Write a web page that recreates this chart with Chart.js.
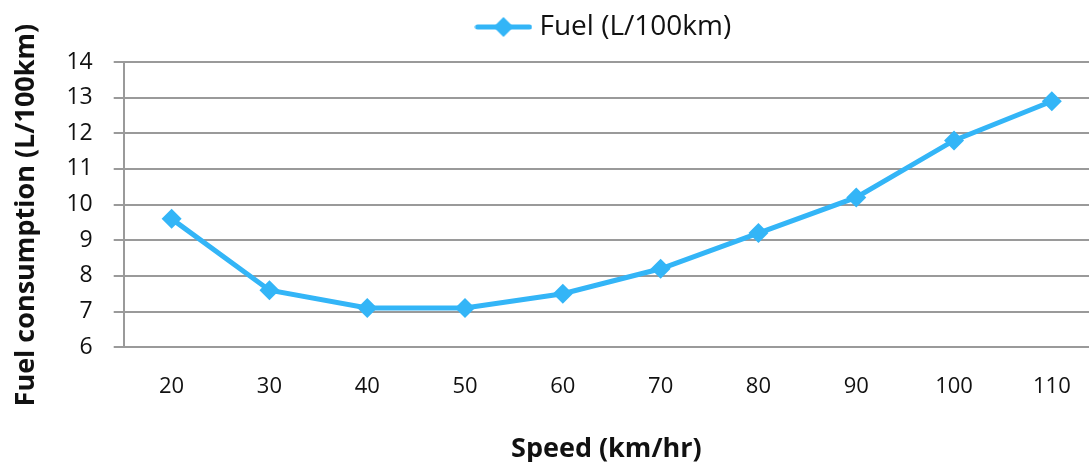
<!DOCTYPE html>
<html lang="en">
<head>
    <meta charset="UTF-8">
    <title>Fuel consumption vs speed</title>
    <script src="https://cdn.jsdelivr.net/npm/chart.js"></script>
    <style>
        html, body { margin: 0; padding: 0; background: #fff; overflow: hidden; }
        #wrap { position: relative; width: 1089px; height: 462px; }
    </style>
</head>
<body>
    <div id="wrap"><canvas id="fuelChart"></canvas></div>

    <script>
        // speed (km/hr) and measured fuel use (L/100km)
        const speeds = [20, 30, 40, 50, 60, 70, 80, 90, 100, 110];
        const fuelUse = [9.6, 7.6, 7.1, 7.1, 7.5, 8.2, 9.2, 10.2, 11.8, 12.9];
        const yTicks = [6, 7, 8, 9, 10, 11, 12, 13, 14];

        const lineColor = '#33b5f7';
        const gridColor = '#9a9a9a';
        const fontFamily = "'Open Sans', 'Noto Sans', sans-serif";

        // legend swatch: short line with a diamond in the middle
        function legendSwatch() {
            const c = document.createElement('canvas');
            c.width = 58; c.height = 22;
            const ctx = c.getContext('2d');
            ctx.strokeStyle = lineColor;
            ctx.lineWidth = 5;
            ctx.lineCap = 'round';
            ctx.beginPath();
            ctx.moveTo(3, 11); ctx.lineTo(55, 11);
            ctx.stroke();
            ctx.fillStyle = lineColor;
            ctx.beginPath();
            ctx.moveTo(29, 1); ctx.lineTo(39, 11); ctx.lineTo(29, 21); ctx.lineTo(19, 11);
            ctx.closePath();
            ctx.fill();
            return c;
        }
        const swatch = legendSwatch();

        // extra space between the legend and the plot
        const legendGap = {
            id: 'legendGap',
            beforeInit(chart) {
                const fit = chart.legend.fit;
                chart.legend.fit = function () {
                    fit.call(this);
                    this.height += 11;
                };
            }
        };

        new Chart(document.getElementById('fuelChart').getContext('2d'), {
            type: 'line',
            data: {
                datasets: [{
                    label: 'Fuel (L/100km)',
                    data: speeds.map((s, i) => ({ x: s, y: fuelUse[i] })),
                    borderColor: lineColor,
                    backgroundColor: lineColor,
                    borderWidth: 5,
                    pointStyle: 'rectRot',
                    pointRadius: 10,
                    pointHoverRadius: 10,
                    pointBorderWidth: 0,
                    tension: 0
                }]
            },
            plugins: [legendGap],
            options: {
                responsive: true,
                maintainAspectRatio: false,
                animation: false,
                // plot runs right up to the canvas edge
                layout: { autoPadding: false, padding: { left: 10, top: 0, right: 0, bottom: 0 } },
                plugins: {
                    tooltip: { enabled: false },
                    legend: {
                        position: 'top',
                        fullSize: false,
                        labels: {
                            usePointStyle: true,
                            pointStyleWidth: 44,
                            padding: 13,
                            color: '#111',
                            font: { family: fontFamily, size: 28 },
                            generateLabels: chart => chart.data.datasets.map((ds, i) => ({
                                text: ds.label,
                                pointStyle: swatch,
                                fillStyle: ds.borderColor,
                                strokeStyle: ds.borderColor,
                                lineWidth: 0,
                                datasetIndex: i,
                                fontColor: '#111'
                            }))
                        }
                    }
                },
                scales: {
                    x: {
                        type: 'linear',
                        min: 15.1,
                        max: 113.8,
                        afterBuildTicks: axis => { axis.ticks = speeds.map(v => ({ value: v })); },
                        afterFit: axis => { axis.paddingLeft = 0; axis.paddingRight = 0; },
                        grid: { display: false },
                        border: { display: true, color: gridColor, width: 2 },
                        ticks: {
                            color: '#111',
                            padding: 18,
                            font: { family: fontFamily, size: 22 }
                        },
                        title: {
                            display: true,
                            text: 'Speed (km/hr)',
                            color: '#111',
                            padding: { top: 16, bottom: -4 },
                            font: { family: fontFamily, size: 27, weight: 'bold' }
                        }
                    },
                    y: {
                        min: 6,
                        max: 14,
                        afterBuildTicks: axis => { axis.ticks = yTicks.map(v => ({ value: v })); },
                        grid: { color: gridColor, lineWidth: 2, tickLength: 10, drawTicks: true },
                        border: { display: true, color: gridColor, width: 2 },
                        ticks: {
                            color: '#111',
                            padding: 21,
                            font: { family: fontFamily, size: 23 }
                        },
                        title: {
                            display: true,
                            // trailing spaces push the rotated title a little lower
                            text: 'Fuel consumption (L/100km)   ',
                            color: '#111',
                            padding: { top: 0, bottom: 3 },
                            font: { family: fontFamily, size: 27, weight: 'bold' }
                        }
                    }
                }
            }
        });
    </script>
</body>
</html>
